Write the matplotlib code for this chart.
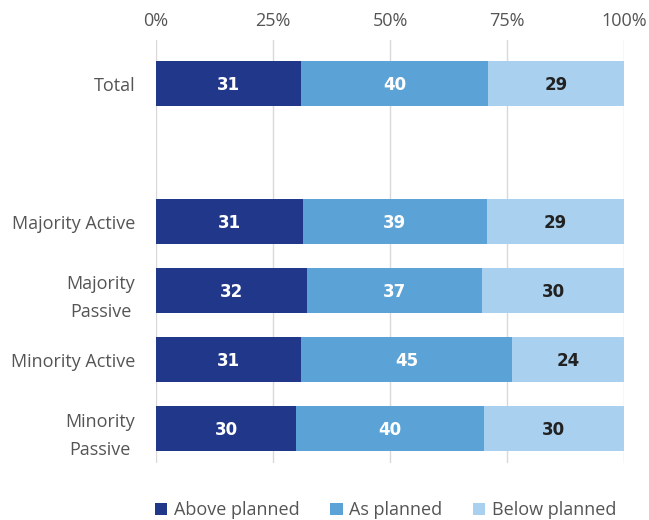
import matplotlib

matplotlib.use("Agg")
import matplotlib.pyplot as plt
import numpy as np

categories = ["Total", "Majority Active", "Majority\nPassive", "Minority Active", "Minority\nPassive"]
above_planned = [31, 31, 32, 31, 30]
as_planned = [40, 39, 37, 45, 40]
below_planned = [29, 29, 30, 24, 30]
series_names = ["Above planned", "As planned", "Below planned"]
x_ticks = [0, 25, 50, 75, 100]

colors = ["#21388A", "#5BA3D6", "#A9D0EE"]
label_colors = ["white", "white", "#222222"]
text_grey = "#555555"

plt.rcParams["font.family"] = ["Open Sans", "DejaVu Sans"]

# Total sits on its own, with an empty slot before the groups
positions = [0, 2, 3, 4, 5]

values = np.array([above_planned, as_planned, below_planned], dtype=float)
shares = values / values.sum(axis=0) * 100

fig = plt.figure(figsize=(6.49, 5.2), dpi=100)
ax = fig.add_axes([0.2404, 0.1096, 0.7211, 0.8134])

left = np.zeros(len(categories))
for i, name in enumerate(series_names):
    ax.barh(positions, shares[i], left=left, height=0.66, color=colors[i],
            label=name, zorder=3)
    for pos, start, width, raw in zip(positions, left, shares[i], values[i]):
        ax.text(start + width / 2, pos + 0.02, f"{raw:.0f}", ha="center", va="center",
                color=label_colors[i], fontsize=12, fontweight="bold",
                family="DejaVu Sans", zorder=4)
    left += shares[i]

ax.set_xlim(0, 100)
ax.set_ylim(5.5, -0.63)
ax.xaxis.tick_top()
ax.set_xticks(x_ticks, [f"{t}%" for t in x_ticks])
ax.set_yticks(positions, categories)
ax.tick_params(length=0, labelsize=13, colors=text_grey, pad=7)
ax.tick_params(axis="y", pad=15)
for label in ax.get_yticklabels():
    label.set_multialignment("center")
    label.set_linespacing(1.75)
ax.grid(axis="x", color="#D9D9D9", linewidth=1, zorder=0)
for spine in ax.spines.values():
    spine.set_visible(False)

ax.legend(loc="center", bbox_to_anchor=(0.49, -0.112), ncol=3, frameon=False,
          fontsize=13, handlelength=0.7, handleheight=0.7, handletextpad=0.35,
          columnspacing=1.7, labelcolor=text_grey)

fig.savefig("out.png", dpi=100)
plt.close(fig)
